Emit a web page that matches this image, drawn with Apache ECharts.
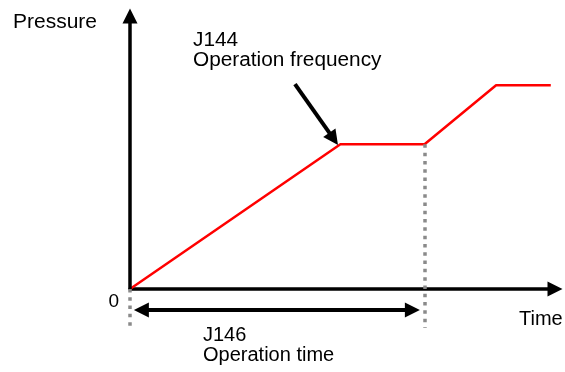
<!DOCTYPE html>
<html><head><meta charset="utf-8">
<script src="https://cdn.jsdelivr.net/npm/echarts@6/dist/echarts.min.js"></script>
<style>html,body{margin:0;padding:0;background:#fff}#c{width:565px;height:372px}</style>
</head><body><div id="c"></div>
<script>
// Data
const timePoints = [0, 50, 70, 87, 100];
const pressureValues = [0, 7.1, 7.1, 10, 10];
const timeRange = [0, 101];
const pressureRange = [-2, 13.4];
const dropBottom = -1.9;              // lower end of the grey dotted guides
const spanArrowY = -1.03;             // level of the J146 double arrow
const spanArrowX = [2.7, 67.1];       // ends of the J146 double arrow
const pointerFrom = [39.2, 10.06];    // J144 pointer arrow start
const pointerTo = [48.4, 7.37];       // J144 pointer arrow end
const yAxisLabel = 'Pressure';
const xAxisLabel = 'Time';
const note144 = ['J144', 'Operation frequency'];
const note146 = ['J146', 'Operation time'];

const FONT = '"Liberation Sans", Arial, sans-serif';
const black = { color: '#000', width: 3.5, type: 'solid' };
const grey = { color: '#8a8a8a', width: 3.5, type: [3.5, 4.8] };

const chart = echarts.init(document.getElementById('c'), null, { renderer: 'canvas' });
chart.setOption({
  animation: false,
  backgroundColor: '#fff',
  grid: { left: 130, right: 10, top: 16, bottom: 42.3 },
  xAxis: {
    type: 'value', min: timeRange[0], max: timeRange[1],
    axisLine: { show: true, onZero: true, symbol: ['none', 'triangle'], symbolSize: [15, 15], lineStyle: { color: '#000', width: 3.5 } },
    axisTick: { show: false }, axisLabel: { show: false }, splitLine: { show: false }
  },
  yAxis: {
    type: 'value', min: pressureRange[0], max: pressureRange[1], interval: 2,
    axisLine: { show: false }, axisTick: { show: false }, splitLine: { show: false },
    axisLabel: {
      formatter: v => (v === 0 ? '0' : ''), color: '#000', fontSize: 19, fontFamily: FONT,
      margin: 11, verticalAlign: 'top', padding: [3, 0, 0, 0]
    }
  },
  series: [{
    type: 'line',
    data: timePoints.map((t, i) => [t, pressureValues[i]]),
    symbol: 'none',
    clip: false,
    lineStyle: { color: '#ff0000', width: 2.5 },
    z: 3,
    markLine: {
      silent: true, animation: false,
      symbol: ['none', 'none'], symbolSize: 15,
      label: { show: false },
      emphasis: { disabled: true },
      data: [
        [{ coord: [timePoints[0], pressureValues[0]], lineStyle: grey }, { coord: [timePoints[0], dropBottom] }],
        [{ coord: [timePoints[2], pressureValues[2]], lineStyle: grey }, { coord: [timePoints[2], dropBottom] }],
        [{ coord: [timePoints[0], 0], lineStyle: black }, { coord: [timePoints[0], pressureRange[1]], symbol: 'triangle', symbolSize: 15 }],
        [{ coord: [spanArrowX[0], spanArrowY], lineStyle: Object.assign({}, black, { width: 4 }), symbol: 'triangle', symbolSize: 15 },
         { coord: [spanArrowX[1], spanArrowY], symbol: 'triangle', symbolSize: 15 }],
        [{ coord: pointerFrom, lineStyle: Object.assign({}, black, { width: 4 }) }, { coord: pointerTo, symbol: 'triangle', symbolSize: 15 }]
      ]
    }
  }],
  graphic: [
    { type: 'text', x: 13, y: 12, scaleX: 1.05, style: { text: yAxisLabel, font: '20px ' + FONT, fill: '#000' } },
    { type: 'text', x: 519, y: 309, style: { text: xAxisLabel, font: '20px ' + FONT, fill: '#000' } },
    { type: 'text', x: 193, y: 30, scaleX: 1.04, style: { text: note144.join('\n'), font: '20px ' + FONT, lineHeight: 20, fill: '#000' } },
    { type: 'text', x: 203, y: 325, style: { text: note146.join('\n'), font: '20px ' + FONT, lineHeight: 20, fill: '#000' } }
  ]
});
</script></body></html>
